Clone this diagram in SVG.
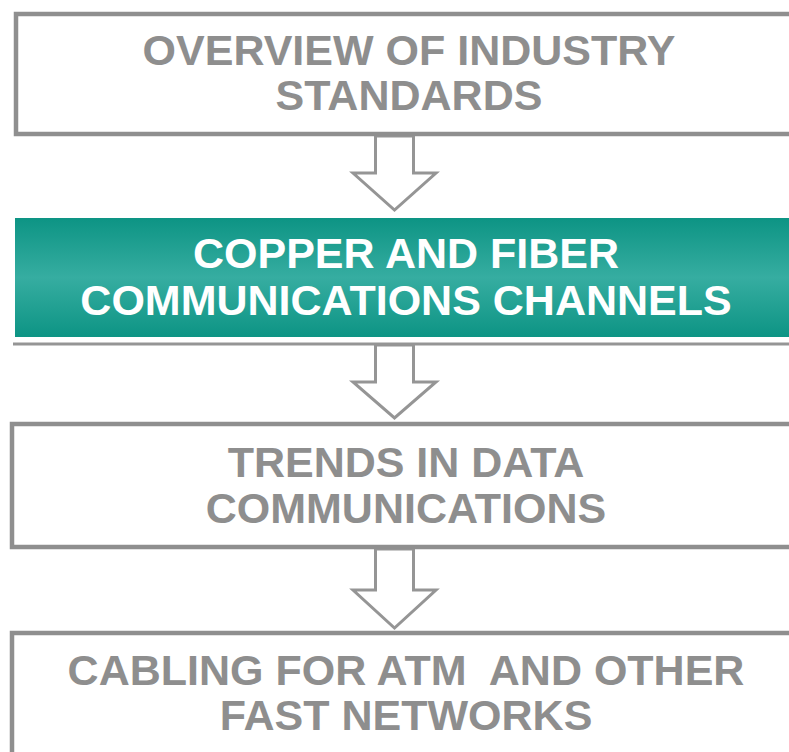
<svg xmlns="http://www.w3.org/2000/svg" width="789" height="752" viewBox="0 0 789 752">
<style>
.box{fill:#ffffff;stroke:#8f8f8f;stroke-width:4.5}
.arrow{fill:#ffffff;stroke:#959595;stroke-width:3;stroke-linejoin:miter}
.lbl{font-family:"Liberation Sans",Arial,sans-serif;font-weight:bold;font-size:43px;text-anchor:middle;fill:#8e8e8e;white-space:pre}
.lblw{fill:#ffffff}
</style>
<defs>
<linearGradient id="teal" x1="0" y1="0" x2="0" y2="1">
<stop offset="0" stop-color="#0d9484"/>
<stop offset="0.5" stop-color="#36ada1"/>
<stop offset="1" stop-color="#0d9484"/>
</linearGradient>
</defs>
<g id="connectors">
<path class="arrow" d="M375.5,136 L375.5,173 L353,173 L394.5,210 L436,173 L413.5,173 L413.5,136 Z"/>
<path class="arrow" d="M375.5,345 L375.5,382 L353,382 L394.5,418 L436,382 L413.5,382 L413.5,345 Z"/>
<path class="arrow" d="M375.5,549 L375.5,590 L353,590 L394.5,628 L436,590 L413.5,590 L413.5,549 Z"/>
</g>
<g id="node1">
<rect class="box" x="16" y="14" width="790" height="120"/>
<text class="lbl" x="409" y="65">OVERVIEW OF INDUSTRY</text>
<text class="lbl" x="409" y="110">STANDARDS</text>
</g>
<g id="node2">
<line x1="13" y1="344" x2="789" y2="344" stroke="#959595" stroke-width="3"/>
<rect x="15" y="218" width="790" height="119" fill="url(#teal)"/>
<text class="lbl lblw" x="406" y="268">COPPER AND FIBER</text>
<text class="lbl lblw" x="406" y="315">COMMUNICATIONS CHANNELS</text>
</g>
<g id="node3">
<rect class="box" x="12" y="424" width="790" height="123"/>
<text class="lbl" x="406" y="477">TRENDS IN DATA</text>
<text class="lbl" x="406" y="523">COMMUNICATIONS</text>
</g>
<g id="node4">
<rect class="box" x="12" y="633" width="790" height="140"/>
<text class="lbl" x="406" y="685">CABLING FOR ATM  AND OTHER</text>
<text class="lbl" x="406" y="730">FAST NETWORKS</text>
</g>
</svg>
